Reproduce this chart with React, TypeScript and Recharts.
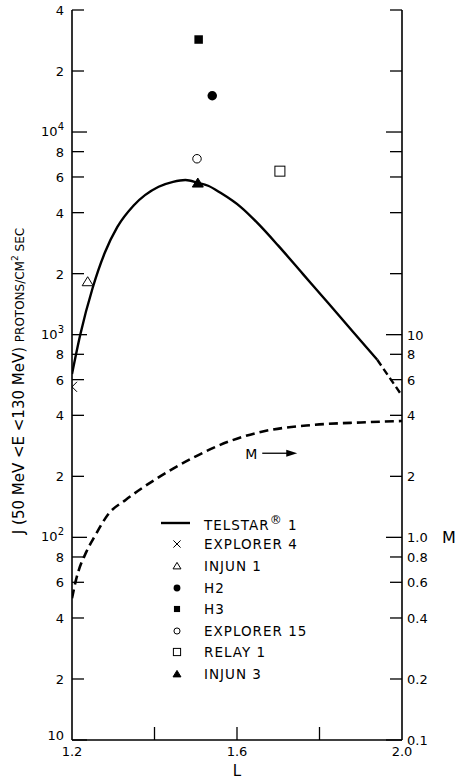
import React from 'react';
import { ComposedChart, Line, Scatter, XAxis, YAxis, Legend, ReferenceDot } from 'recharts';

const FONT = '"DejaVu Sans", sans-serif';

// TELSTAR 1 curve (solid part), L vs J
const telstarL = [1.2, 1.22, 1.25, 1.28, 1.31, 1.35, 1.41, 1.445, 1.475, 1.505, 1.53, 1.56, 1.61, 1.65, 1.7, 1.76, 1.82, 1.88, 1.94];
const telstarJ = [640, 1000, 1700, 2550, 3400, 4350, 5370, 5680, 5800, 5620, 5430, 5010, 4250, 3550, 2750, 1990, 1440, 1040, 752];
// TELSTAR 1 extrapolated (dashed) end
const telstarEndL = [1.94, 2.0];
const telstarEndJ = [752, 500];
// M curve (right axis, M = J / 100)
const mCurveL = [1.2, 1.21, 1.235, 1.256, 1.289, 1.33, 1.4, 1.49, 1.58, 1.66, 1.78, 1.9, 2.0];
const mCurveJ = [50, 62, 85, 102, 131, 153, 192, 245, 297, 332, 358, 369, 375];

// Single satellite measurements
const pointNames = ['EXPLORER 4', 'INJUN 1', 'H2', 'H3', 'EXPLORER 15', 'RELAY 1', 'INJUN 3'];
const pointL = [1.2, 1.238, 1.54, 1.507, 1.503, 1.704, 1.505];
const pointJ = [553, 1825, 15100, 28600, 7380, 6410, 5600];
const pointKinds = ['cross', 'triangleOpen', 'circleFilled', 'squareFilled', 'circleOpen', 'squareOpen', 'triangleFilled'];

const yTicks = [10, 20, 40, 60, 80, 100, 200, 400, 600, 800, 1000, 2000, 4000, 6000, 8000, 10000, 20000, 40000];
const xTicks = [1.2, 1.4, 1.6, 1.8, 2.0];
const xTickLabels = ['1.2', '', '1.6', '', '2.0'];
const supers = ['', '', '2', '3', '4'];

const telstarData = telstarL.map((L, i) => ({ L, J: telstarJ[i] }));
const telstarEndData = telstarEndL.map((L, i) => ({ L, J: telstarEndJ[i] }));
const mData = mCurveL.map((L, i) => ({ L, J: mCurveJ[i] }));

function Marker({ kind, cx, cy, s }: { kind: string; cx: number; cy: number; s: number }) {
  switch (kind) {
    case 'cross':
      return <path d={`M${cx - s},${cy - s}L${cx + s},${cy + s}M${cx - s},${cy + s}L${cx + s},${cy - s}`} stroke="#000" strokeWidth={1} fill="none" />;
    case 'triangleOpen':
      return <polygon points={`${cx},${cy - s} ${cx + s * 1.1},${cy + s * 0.8} ${cx - s * 1.1},${cy + s * 0.8}`} stroke="#000" strokeWidth={1} fill="#fff" />;
    case 'triangleFilled':
      return <polygon points={`${cx},${cy - s} ${cx + s * 1.1},${cy + s * 0.8} ${cx - s * 1.1},${cy + s * 0.8}`} stroke="#000" strokeWidth={1} fill="#000" />;
    case 'circleFilled':
      return <circle cx={cx} cy={cy} r={s * 0.95} fill="#000" />;
    case 'circleOpen':
      return <circle cx={cx} cy={cy} r={s * 0.85} fill="#fff" stroke="#000" strokeWidth={1} />;
    case 'squareFilled':
      return <rect x={cx - s * 0.85} y={cy - s * 0.85} width={s * 1.7} height={s * 1.7} fill="#000" />;
    case 'squareOpen':
      return <rect x={cx - s} y={cy - s} width={s * 2} height={s * 2} fill="#fff" stroke="#000" strokeWidth={1} />;
    default:
      return null;
  }
}

function LeftTick(props: any) {
  const { x, y, payload } = props;
  const v = payload.value as number;
  const e = Math.floor(Math.log10(v) + 1e-9);
  const m = Math.round(v / Math.pow(10, e));
  const decade = m === 1;
  const len = decade ? 15 : 12;
  return (
    <g>
      <line x1={x} x2={x + len} y1={y} y2={y} stroke="#000" strokeWidth={1.3} />
      {decade ? (
        <text x={x - 8} y={y} dy={v === 10 ? 0 : 4} textAnchor="end" fontFamily={FONT} fontSize={13} fill="#000">
          10{supers[e] ? <tspan dy={-6} fontSize={10}>{supers[e]}</tspan> : null}
        </text>
      ) : (
        <text x={x - 8} y={y} dy={5} textAnchor="end" fontFamily={FONT} fontSize={13} fill="#000">
          {m}
        </text>
      )}
    </g>
  );
}

function RightTick(props: any) {
  const { x, y, payload } = props;
  const v = payload.value as number;
  const e = Math.floor(Math.log10(v) + 1e-9);
  const m = Math.round(v / Math.pow(10, e));
  const decade = m === 1;
  const len = decade ? 16 : 12;
  let label = '';
  if (v <= 1000) {
    const M = v / 100;
    label = M < 1 ? M.toFixed(1) : M === 1 ? '1.0' : String(M);
  }
  return (
    <g>
      <line x1={x - len} x2={x} y1={y} y2={y} stroke="#000" strokeWidth={1.3} />
      {label ? (
        <text x={x + 5} y={y} dy={5} textAnchor="start" fontFamily={FONT} fontSize={13} fill="#000">
          {label}
        </text>
      ) : null}
    </g>
  );
}

function BottomTick(props: any) {
  const { x, y, index } = props;
  const lab = xTickLabels[index] ?? '';
  const inner = index > 0 && index < xTicks.length - 1;
  return (
    <g>
      {inner ? <line x1={x} x2={x} y1={y} y2={y - 13} stroke="#000" strokeWidth={1.3} /> : null}
      {lab ? (
        <text x={x} y={y} dy={16} textAnchor="middle" fontFamily={FONT} fontSize={13} fill="#000">
          {lab}
        </text>
      ) : null}
    </g>
  );
}

function TopTick(props: any) {
  const { x, y, index } = props;
  const inner = index > 0 && index < xTicks.length - 1;
  return inner ? <line x1={x} x2={x} y1={y} y2={y + 13} stroke="#000" strokeWidth={1.3} /> : <g />;
}

function YTitle(props: any) {
  const vb = props.viewBox || { x: 0, y: 0, width: 72, height: 730 };
  const cx = vb.x + 18;
  const cy = vb.y + vb.height / 2 + 6;
  return (
    <text transform={`translate(${cx},${cy}) rotate(-90)`} textAnchor="middle" fontFamily={FONT} fill="#000" dy={6}>
      <tspan fontSize={15}>J (50 MeV &lt;E &lt;130 MeV) </tspan>
      <tspan fontSize={12}>PROTONS/CM</tspan>
      <tspan fontSize={9} dy={-6}>2</tspan>
      <tspan fontSize={12} dy={6}> SEC</tspan>
    </text>
  );
}

function MTitle(props: any) {
  const vb = props.viewBox || { x: 402, y: 10, width: 57, height: 730 };
  return (
    <text x={vb.x + 40} y={537} dy={6} fontFamily={FONT} fontSize={16} fill="#000">
      M
    </text>
  );
}

function MArrow(props: any) {
  const { cx, cy } = props;
  return (
    <g>
      <text x={cx} y={cy} dy={6} fontFamily={FONT} fontSize={14} fill="#000">M</text>
      <line x1={cx + 17} x2={cx + 46} y1={cy} y2={cy} stroke="#000" strokeWidth={1.3} />
      <polygon points={`${cx + 52},${cy} ${cx + 41},${cy - 3.5} ${cx + 41},${cy + 3.5}`} fill="#000" />
    </g>
  );
}

function LegendBox() {
  const rows = [{ name: 'TELSTAR', kind: 'line' }].concat(pointNames.map((n, i) => ({ name: n, kind: pointKinds[i] })));
  return (
    <div style={{ fontFamily: FONT, fontSize: 13.5, color: '#000' }}>
      {rows.map((r, i) => (
        <div key={i} style={{ height: 21.6, display: 'flex', alignItems: 'center', whiteSpace: 'nowrap' }}>
          <svg width={46} height={20} style={{ flex: 'none' }}>
            {r.kind === 'line' ? (
              <line x1={3} x2={32} y1={10} y2={10} stroke="#000" strokeWidth={2.4} />
            ) : (
              <Marker kind={r.kind} cx={19} cy={10} s={3.6} />
            )}
          </svg>
          <span style={{ letterSpacing: 1 }}>
            {r.name}
            {r.kind === 'line' ? (
              <>
                <sup style={{ fontSize: 12 }}>®</sup> 1
              </>
            ) : null}
          </span>
        </div>
      ))}
    </div>
  );
}

export default function App() {
  return (
    <div style={{ position: 'absolute', left: 0, top: 0, width: 459, height: 780, background: '#fff' }}>
      <ComposedChart width={459} height={780} margin={{ top: 10, right: 0, bottom: 0, left: 0 }}>
        <XAxis
          dataKey="L"
          type="number"
          domain={[1.2, 2.0]}
          ticks={xTicks}
          allowDataOverflow
          height={40}
          tickSize={0}
          tickMargin={0}
          tick={<BottomTick />}
          axisLine={{ stroke: '#000', strokeWidth: 1.6 }}
          tickLine={false}
          interval={0}
          label={{ value: 'L', position: 'insideBottom', offset: 4, fontFamily: FONT, fontSize: 15, fill: '#000' }}
        />
        <XAxis
          xAxisId="top"
          orientation="top"
          dataKey="L"
          type="number"
          domain={[1.2, 2.0]}
          ticks={xTicks}
          allowDataOverflow
          height={0}
          tickSize={0}
          tickMargin={0}
          tick={<TopTick />}
          axisLine={{ stroke: '#000', strokeWidth: 1.6 }}
          tickLine={false}
          interval={0}
        />
        <YAxis
          yAxisId="left"
          dataKey="J"
          type="number"
          scale="log"
          domain={[10, 40000]}
          ticks={yTicks}
          allowDataOverflow
          width={72}
          tickSize={0}
          tickMargin={0}
          tick={<LeftTick />}
          tickLine={false}
          interval={0}
          axisLine={{ stroke: '#000', strokeWidth: 1.6 }}
          label={{ content: (p: any) => <YTitle {...p} /> }}
        />
        <YAxis
          yAxisId="right"
          orientation="right"
          dataKey="J"
          type="number"
          scale="log"
          domain={[10, 40000]}
          ticks={yTicks}
          allowDataOverflow
          width={57}
          tickSize={0}
          tickMargin={0}
          tick={<RightTick />}
          tickLine={false}
          interval={0}
          axisLine={{ stroke: '#000', strokeWidth: 1.6 }}
          label={{ content: (p: any) => <MTitle {...p} /> }}
        />
        <Line yAxisId="left" data={telstarData} dataKey="J" type="monotone" stroke="#000" strokeWidth={2.4} dot={false} isAnimationActive={false} />
        <Line yAxisId="left" data={telstarEndData} dataKey="J" type="linear" stroke="#000" strokeWidth={2.4} strokeDasharray="7 4" dot={false} isAnimationActive={false} />
        <Line yAxisId="right" data={mData} dataKey="J" type="monotone" stroke="#000" strokeWidth={2.6} strokeDasharray="9 5" dot={false} isAnimationActive={false} />
        {pointNames.map((n, i) => (
          <Scatter
            key={n}
            yAxisId="left"
            name={n}
            data={[{ L: pointL[i], J: pointJ[i] }]}
            dataKey="J"
            isAnimationActive={false}
            shape={(p: any) => <Marker kind={pointKinds[i]} cx={p.cx} cy={p.cy} s={5} />}
          />
        ))}
        <ReferenceDot yAxisId="left" x={1.62} y={260} r={0} shape={(p: any) => <MArrow {...p} />} />
        <Legend
          layout="vertical"
          align="center"
          verticalAlign="middle"
          wrapperStyle={{ position: 'absolute', left: 158, top: 512, width: 240 }}
          content={() => <LegendBox />}
        />
      </ComposedChart>
    </div>
  );
}
